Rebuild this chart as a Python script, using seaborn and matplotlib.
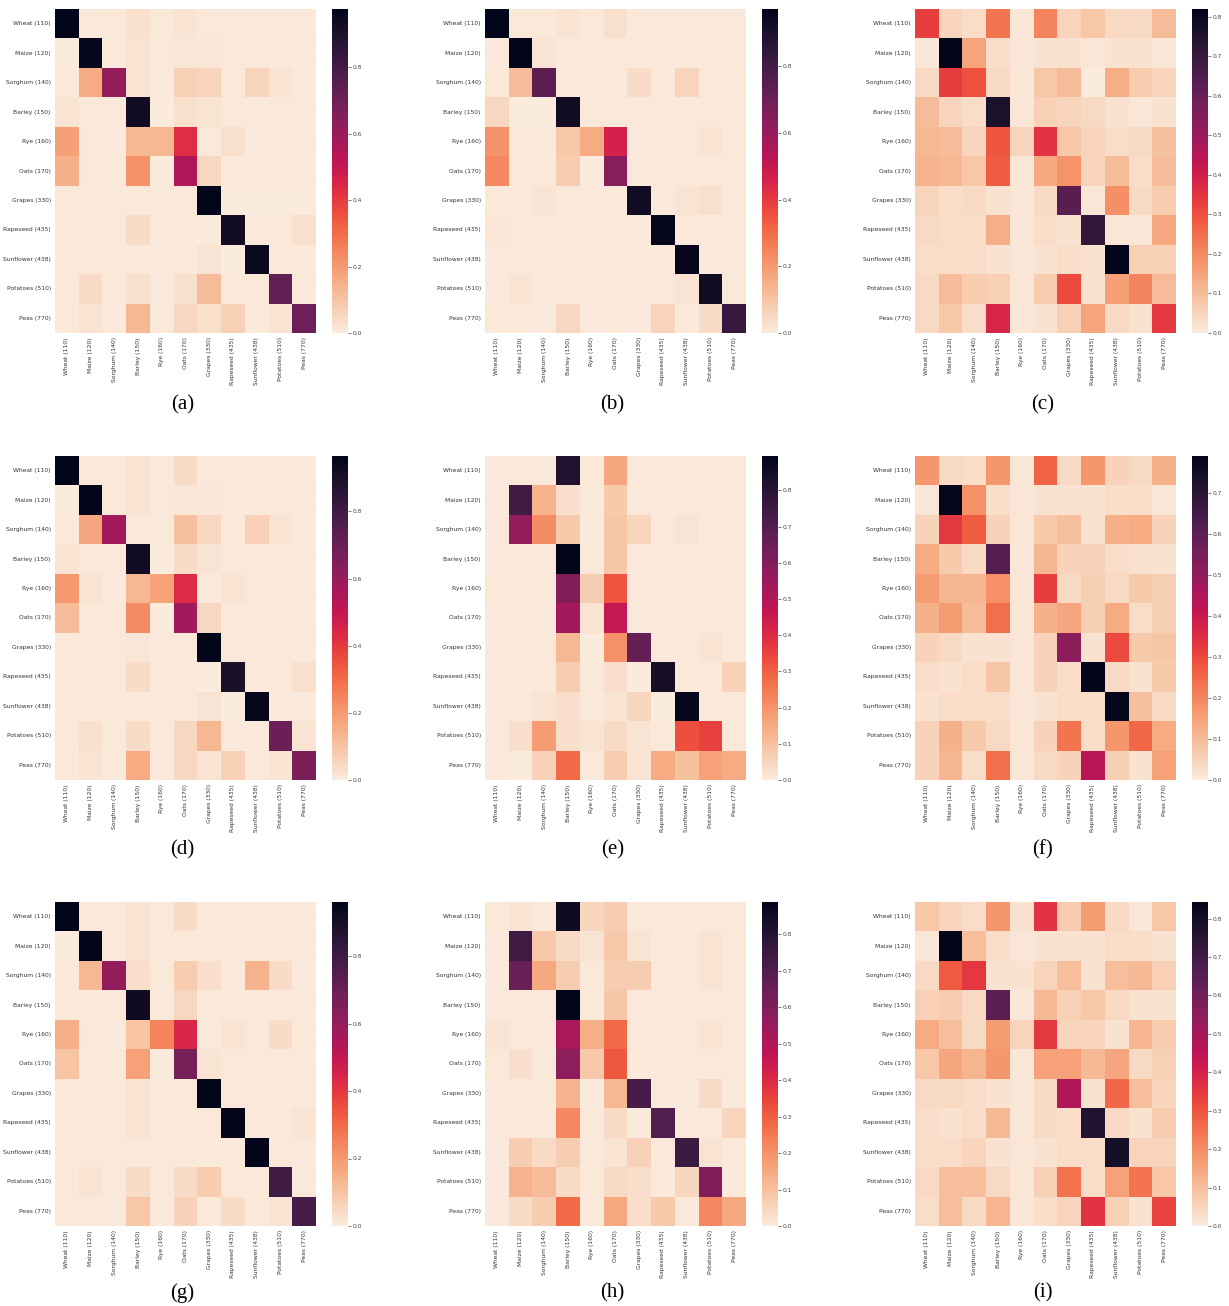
import numpy as np
import seaborn as sns
import matplotlib.pyplot as plt

# Crop classes (row = true, column = predicted)
crops = ["Wheat (110)", "Maize (120)", "Sorghum (140)", "Barley (150)", "Rye (160)",
         "Oats (170)", "Grapes (330)", "Rapeseed (435)", "Sunflower (438)",
         "Potatoes (510)", "Peas (770)"]

panel_names = ["(a)", "(b)", "(c)", "(d)", "(e)", "(f)", "(g)", "(h)", "(i)"]

# Confusion matrices
cm_a = [
    [0.975, 0.01, 0.01, 0.03, 0.01, 0.02, 0.005, 0.005, 0.005, 0.005, 0.005],
    [0.0, 0.96, 0.01, 0.02, 0.01, 0.015, 0.015, 0.01, 0.01, 0.01, 0.005],
    [0.01, 0.16, 0.61, 0.02, 0.01, 0.07, 0.06, 0.01, 0.06, 0.02, 0.01],
    [0.02, 0.01, 0.005, 0.93, 0.0, 0.03, 0.02, 0.01, 0.005, 0.005, 0.005],
    [0.19, 0.01, 0.005, 0.13, 0.13, 0.43, 0.01, 0.03, 0.005, 0.01, 0.01],
    [0.15, 0.01, 0.01, 0.22, 0.0, 0.55, 0.05, 0.01, 0.005, 0.005, 0.005],
    [0.005, 0.005, 0.005, 0.01, 0.005, 0.01, 0.975, 0.0, 0.0, 0.0, 0.0],
    [0.01, 0.005, 0.005, 0.04, 0.005, 0.01, 0.0, 0.93, 0.005, 0.005, 0.03],
    [0.005, 0.01, 0.01, 0.01, 0.005, 0.01, 0.02, 0.0, 0.95, 0.01, 0.005],
    [0.01, 0.04, 0.01, 0.03, 0.005, 0.03, 0.12, 0.01, 0.01, 0.73, 0.01],
    [0.01, 0.02, 0.005, 0.13, 0.005, 0.05, 0.03, 0.07, 0.01, 0.02, 0.70],
]
cm_b = [
    [0.972, 0.01, 0.01, 0.02, 0.01, 0.03, 0.005, 0.005, 0.005, 0.005, 0.005],
    [0.005, 0.965, 0.02, 0.01, 0.005, 0.005, 0.005, 0.005, 0.01, 0.01, 0.005],
    [0.01, 0.12, 0.74, 0.01, 0.005, 0.005, 0.04, 0.005, 0.06, 0.01, 0.01],
    [0.05, 0.0, 0.0, 0.93, 0.005, 0.01, 0.005, 0.01, 0.005, 0.005, 0.005],
    [0.22, 0.005, 0.01, 0.09, 0.16, 0.46, 0.005, 0.005, 0.01, 0.02, 0.01],
    [0.24, 0.005, 0.01, 0.08, 0.0, 0.64, 0.005, 0.005, 0.005, 0.005, 0.005],
    [0.01, 0.01, 0.02, 0.01, 0.005, 0.005, 0.93, 0.005, 0.02, 0.03, 0.005],
    [0.015, 0.01, 0.01, 0.01, 0.005, 0.005, 0.005, 0.96, 0.005, 0.005, 0.005],
    [0.005, 0.01, 0.01, 0.01, 0.005, 0.005, 0.01, 0.005, 0.96, 0.005, 0.005],
    [0.005, 0.02, 0.01, 0.005, 0.005, 0.005, 0.005, 0.005, 0.02, 0.93, 0.01],
    [0.01, 0.01, 0.005, 0.05, 0.005, 0.01, 0.005, 0.06, 0.01, 0.04, 0.83],
]
cm_c = [
    [0.33, 0.05, 0.03, 0.24, 0.01, 0.21, 0.05, 0.08, 0.04, 0.04, 0.10],
    [0.01, 0.82, 0.15, 0.03, 0.01, 0.02, 0.02, 0.01, 0.02, 0.02, 0.01],
    [0.04, 0.33, 0.30, 0.04, 0.01, 0.08, 0.10, 0.0, 0.13, 0.07, 0.05],
    [0.10, 0.05, 0.03, 0.76, 0.01, 0.06, 0.05, 0.04, 0.02, 0.01, 0.02],
    [0.11, 0.10, 0.05, 0.29, 0.05, 0.35, 0.08, 0.05, 0.03, 0.04, 0.09],
    [0.12, 0.11, 0.08, 0.28, 0.01, 0.14, 0.18, 0.05, 0.10, 0.03, 0.10],
    [0.05, 0.03, 0.04, 0.02, 0.01, 0.04, 0.63, 0.01, 0.19, 0.04, 0.07],
    [0.04, 0.03, 0.03, 0.13, 0.01, 0.03, 0.02, 0.71, 0.01, 0.01, 0.14],
    [0.03, 0.03, 0.03, 0.02, 0.01, 0.02, 0.03, 0.02, 0.82, 0.06, 0.06],
    [0.04, 0.10, 0.07, 0.06, 0.01, 0.07, 0.31, 0.02, 0.16, 0.21, 0.10],
    [0.04, 0.08, 0.03, 0.38, 0.01, 0.02, 0.06, 0.15, 0.04, 0.02, 0.34],
]
cm_d = [
    [0.965, 0.01, 0.01, 0.02, 0.01, 0.04, 0.005, 0.005, 0.005, 0.005, 0.005],
    [0.0, 0.96, 0.01, 0.02, 0.005, 0.015, 0.015, 0.005, 0.01, 0.01, 0.005],
    [0.01, 0.17, 0.57, 0.01, 0.01, 0.11, 0.05, 0.01, 0.07, 0.02, 0.005],
    [0.02, 0.01, 0.005, 0.92, 0.0, 0.04, 0.02, 0.005, 0.005, 0.005, 0.005],
    [0.20, 0.02, 0.005, 0.13, 0.18, 0.43, 0.01, 0.02, 0.005, 0.01, 0.01],
    [0.12, 0.01, 0.01, 0.23, 0.0, 0.58, 0.05, 0.01, 0.005, 0.01, 0.01],
    [0.005, 0.005, 0.005, 0.015, 0.005, 0.01, 0.965, 0.005, 0.005, 0.005, 0.005],
    [0.01, 0.005, 0.005, 0.04, 0.005, 0.01, 0.0, 0.90, 0.005, 0.005, 0.03],
    [0.005, 0.01, 0.01, 0.01, 0.005, 0.01, 0.02, 0.0, 0.95, 0.005, 0.005],
    [0.01, 0.03, 0.01, 0.04, 0.01, 0.05, 0.13, 0.005, 0.01, 0.70, 0.02],
    [0.01, 0.02, 0.005, 0.16, 0.005, 0.05, 0.02, 0.07, 0.01, 0.02, 0.66],
]
cm_e = [
    [0.005, 0.01, 0.005, 0.82, 0.01, 0.16, 0.005, 0.005, 0.005, 0.005, 0.005],
    [0.005, 0.74, 0.13, 0.03, 0.01, 0.08, 0.01, 0.005, 0.01, 0.01, 0.005],
    [0.005, 0.56, 0.21, 0.08, 0.01, 0.09, 0.05, 0.005, 0.02, 0.01, 0.005],
    [0.005, 0.005, 0.01, 0.895, 0.005, 0.09, 0.005, 0.005, 0.005, 0.005, 0.005],
    [0.01, 0.005, 0.01, 0.60, 0.07, 0.32, 0.005, 0.005, 0.005, 0.01, 0.005],
    [0.005, 0.005, 0.01, 0.53, 0.02, 0.46, 0.005, 0.005, 0.005, 0.005, 0.005],
    [0.005, 0.01, 0.01, 0.12, 0.0, 0.20, 0.66, 0.005, 0.005, 0.02, 0.005],
    [0.005, 0.005, 0.01, 0.07, 0.005, 0.03, 0.0, 0.84, 0.005, 0.005, 0.06],
    [0.005, 0.01, 0.02, 0.03, 0.01, 0.02, 0.05, 0.0, 0.88, 0.005, 0.005],
    [0.005, 0.03, 0.18, 0.03, 0.02, 0.04, 0.02, 0.01, 0.33, 0.36, 0.005],
    [0.005, 0.0, 0.06, 0.28, 0.005, 0.07, 0.02, 0.15, 0.10, 0.17, 0.15],
]
cm_f = [
    [0.17, 0.04, 0.03, 0.17, 0.01, 0.26, 0.04, 0.17, 0.05, 0.04, 0.12],
    [0.01, 0.78, 0.18, 0.03, 0.01, 0.02, 0.02, 0.02, 0.03, 0.03, 0.01],
    [0.05, 0.33, 0.27, 0.05, 0.01, 0.07, 0.09, 0.02, 0.12, 0.13, 0.05],
    [0.13, 0.07, 0.04, 0.62, 0.01, 0.11, 0.05, 0.05, 0.03, 0.02, 0.02],
    [0.16, 0.11, 0.11, 0.18, 0.01, 0.32, 0.04, 0.06, 0.04, 0.07, 0.06],
    [0.12, 0.16, 0.10, 0.24, 0.01, 0.12, 0.14, 0.06, 0.13, 0.03, 0.06],
    [0.05, 0.04, 0.02, 0.02, 0.01, 0.05, 0.51, 0.02, 0.30, 0.07, 0.08],
    [0.03, 0.02, 0.03, 0.08, 0.01, 0.05, 0.03, 0.79, 0.04, 0.02, 0.07],
    [0.02, 0.03, 0.03, 0.03, 0.01, 0.02, 0.03, 0.03, 0.78, 0.09, 0.04],
    [0.05, 0.12, 0.07, 0.04, 0.01, 0.05, 0.23, 0.03, 0.17, 0.25, 0.13],
    [0.05, 0.11, 0.03, 0.24, 0.01, 0.04, 0.05, 0.43, 0.06, 0.02, 0.15],
]
cm_g = [
    [0.96, 0.005, 0.005, 0.02, 0.005, 0.04, 0.005, 0.005, 0.005, 0.005, 0.005],
    [0.0, 0.96, 0.005, 0.02, 0.005, 0.01, 0.01, 0.005, 0.01, 0.01, 0.005],
    [0.01, 0.13, 0.60, 0.03, 0.01, 0.08, 0.03, 0.01, 0.14, 0.04, 0.005],
    [0.01, 0.01, 0.005, 0.92, 0.005, 0.05, 0.01, 0.005, 0.005, 0.005, 0.005],
    [0.15, 0.005, 0.005, 0.10, 0.25, 0.44, 0.005, 0.02, 0.005, 0.04, 0.01],
    [0.10, 0.005, 0.005, 0.18, 0.0, 0.67, 0.02, 0.01, 0.005, 0.01, 0.01],
    [0.005, 0.005, 0.005, 0.02, 0.005, 0.01, 0.96, 0.005, 0.005, 0.01, 0.005],
    [0.01, 0.005, 0.005, 0.02, 0.005, 0.01, 0.005, 0.95, 0.005, 0.005, 0.02],
    [0.005, 0.01, 0.01, 0.01, 0.005, 0.01, 0.01, 0.005, 0.95, 0.005, 0.005],
    [0.005, 0.02, 0.005, 0.04, 0.005, 0.04, 0.08, 0.005, 0.01, 0.80, 0.005],
    [0.01, 0.01, 0.005, 0.09, 0.005, 0.06, 0.01, 0.04, 0.01, 0.02, 0.78],
]
cm_h = [
    [0.01, 0.02, 0.005, 0.86, 0.05, 0.07, 0.005, 0.005, 0.005, 0.005, 0.005],
    [0.005, 0.74, 0.08, 0.04, 0.02, 0.08, 0.02, 0.005, 0.005, 0.02, 0.01],
    [0.005, 0.65, 0.15, 0.07, 0.01, 0.07, 0.07, 0.01, 0.01, 0.02, 0.005],
    [0.005, 0.005, 0.005, 0.888, 0.005, 0.09, 0.005, 0.005, 0.005, 0.005, 0.005],
    [0.02, 0.005, 0.01, 0.52, 0.14, 0.28, 0.01, 0.01, 0.005, 0.02, 0.005],
    [0.01, 0.03, 0.01, 0.57, 0.08, 0.31, 0.005, 0.005, 0.005, 0.005, 0.005],
    [0.005, 0.01, 0.01, 0.13, 0.0, 0.12, 0.72, 0.005, 0.005, 0.04, 0.005],
    [0.005, 0.01, 0.01, 0.22, 0.005, 0.04, 0.0, 0.70, 0.005, 0.005, 0.05],
    [0.005, 0.07, 0.04, 0.07, 0.005, 0.02, 0.06, 0.005, 0.75, 0.02, 0.01],
    [0.005, 0.13, 0.11, 0.04, 0.01, 0.04, 0.03, 0.005, 0.05, 0.60, 0.005],
    [0.005, 0.04, 0.07, 0.28, 0.005, 0.15, 0.03, 0.08, 0.01, 0.22, 0.15],
]
cm_i = [
    [0.08, 0.05, 0.03, 0.18, 0.02, 0.36, 0.07, 0.17, 0.04, 0.01, 0.08],
    [0.01, 0.843, 0.10, 0.03, 0.01, 0.02, 0.02, 0.02, 0.03, 0.03, 0.02],
    [0.04, 0.29, 0.35, 0.02, 0.02, 0.05, 0.10, 0.02, 0.10, 0.11, 0.06],
    [0.06, 0.07, 0.04, 0.64, 0.01, 0.11, 0.06, 0.08, 0.04, 0.02, 0.02],
    [0.14, 0.10, 0.04, 0.17, 0.05, 0.35, 0.05, 0.05, 0.02, 0.12, 0.07],
    [0.08, 0.15, 0.12, 0.18, 0.01, 0.16, 0.16, 0.11, 0.15, 0.04, 0.06],
    [0.04, 0.04, 0.03, 0.02, 0.01, 0.04, 0.48, 0.02, 0.27, 0.10, 0.05],
    [0.03, 0.02, 0.03, 0.11, 0.01, 0.04, 0.03, 0.77, 0.04, 0.02, 0.07],
    [0.03, 0.03, 0.05, 0.02, 0.01, 0.02, 0.03, 0.03, 0.80, 0.05, 0.05],
    [0.04, 0.10, 0.10, 0.04, 0.01, 0.06, 0.25, 0.03, 0.16, 0.25, 0.08],
    [0.03, 0.10, 0.04, 0.12, 0.01, 0.03, 0.05, 0.36, 0.06, 0.02, 0.33],
]

matrices = [cm_a, cm_b, cm_c, cm_d, cm_e, cm_f, cm_g, cm_h, cm_i]

# Figure set-up (pixel layout of the 3x3 grid)
W, H = 1229, 1306
fig = plt.figure(figsize=(W / 100, H / 100), dpi=100)

col_left = [55, 485, 915]
row_top = [9, 456, 902]
hm_w, hm_h = 261, 324
cb_gap, cb_w = 16, 16
caption_y = [405, 850, 1293]

for k, cm in enumerate(matrices):
    r, c = divmod(k, 3)
    x0, y0 = col_left[c], row_top[r]
    ax = fig.add_axes([x0 / W, 1 - (y0 + hm_h) / H, hm_w / W, hm_h / H])
    cax = fig.add_axes([(x0 + hm_w + cb_gap) / W, 1 - (y0 + hm_h) / H, cb_w / W, hm_h / H])

    sns.heatmap(np.array(cm), cmap="rocket_r", vmin=0, ax=ax, cbar_ax=cax,
                xticklabels=crops, yticklabels=crops)

    # no tick marks on the heatmap itself, just the labels
    ax.tick_params(axis="both", labelsize=4.3, length=0, pad=3, colors="#333333")
    ax.set_xticklabels(crops, rotation=90)
    ax.set_yticklabels(crops, rotation=0)
    cax.tick_params(labelsize=4.3, length=2, width=0.5, pad=1.5, colors="#444444")

    # caption under each panel
    fig.text((x0 + hm_w / 2 - 3) / W, 1 - caption_y[r] / H, panel_names[k],
             ha="center", va="center", fontsize=15, family="Liberation Serif")

plt.savefig("out.png", dpi=100)
